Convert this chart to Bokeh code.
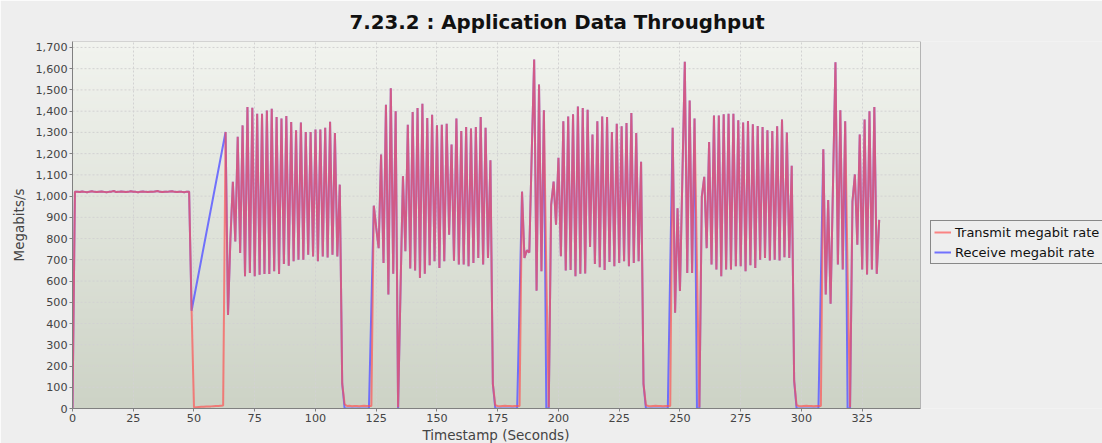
import numpy as np
from bokeh.plotting import figure
from bokeh.models import Range1d, NumeralTickFormatter, FixedTicker, Legend, LegendItem, Title
from bokeh.embed import file_html
from bokeh.resources import INLINE

# ---------------- data ----------------
transmit_t = list(range(0, 333))
transmit = [
    0, 1020, 1021, 1019, 1022, 1020, 1018, 1021, 1023, 1020,          # 0
    1019, 1021, 1022, 1020, 1018, 1020, 1021, 1024, 1019, 1020,       # 10
    1022, 1021, 1019, 1020, 1023, 1021, 1020, 1018, 1021, 1022,       # 20
    1020, 1019, 1021, 1020, 1022, 1024, 1020, 1019, 1021, 1020,       # 30
    1022, 1023, 1020, 1019, 1021, 1020, 1018, 1021, 1020, 470,        # 40
    5, 6, 7, 8, 8, 9, 10, 10, 11, 12,                                 # 50
    12, 13, 14, 1302, 440, 800, 1068, 787, 1279, 732,                 # 60
    1333, 623, 1419, 638, 1416, 623, 1388, 630, 1388, 633,            # 70
    1403, 633, 1411, 646, 1372, 633, 1365, 680, 1377, 672,            # 80
    1349, 693, 1310, 700, 1346, 700, 1302, 724, 1302, 716,            # 90
    1313, 693, 1313, 716, 1322, 711, 1350, 724, 1297, 716,            # 100
    1054, 117, 20, 12, 13, 11, 12, 12, 11, 12,                        # 110
    13, 12, 12, 12, 955, 850, 755, 1196, 685, 1430,                   # 120
    537, 1508, 634, 1399, 6, 560, 1094, 740, 1336, 659,               # 130
    1396, 650, 1415, 615, 1435, 634, 1368, 674, 1383, 693,            # 140
    1333, 662, 1336, 693, 1341, 818, 1243, 696, 1365, 678,            # 150
    1307, 678, 1325, 670, 1318, 685, 1325, 709, 1372, 678,            # 160
    1322, 709, 1169, 116, 15, 12, 11, 12, 13, 12,                     # 170
    12, 11, 12, 12, 12, 1021, 709, 745, 735, 1200,                    # 180
    1643, 555, 1526, 646, 1404, 640, 6, 959, 1068, 865,               # 190
    1180, 717, 1352, 650, 1375, 652, 1385, 623, 1422, 634,            # 200
    1415, 636, 1407, 760, 1290, 681, 1352, 665, 1375, 652,            # 210
    1372, 690, 1302, 670, 1341, 685, 1329, 693, 1344, 670,            # 220
    1391, 685, 1297, 693, 1162, 116, 15, 12, 11, 12,                  # 230
    13, 12, 12, 11, 12, 12, 12, 1322, 451, 943,                       # 240
    553, 1090, 1633, 638, 1450, 638, 1365, 680, 6, 998,               # 250
    1091, 755, 1255, 678, 1380, 654, 1380, 623, 1385, 654,            # 260
    1388, 654, 1388, 670, 1357, 670, 1346, 646, 1354, 674,            # 270
    1338, 662, 1330, 701, 1325, 709, 1310, 697, 1307, 701,            # 280
    1329, 697, 1361, 712, 1299, 709, 1143, 131, 15, 12,               # 290
    11, 12, 13, 12, 12, 11, 12, 12, 12, 1221,                         # 300
    537, 982, 493, 1060, 1630, 678, 1404, 654, 1352, 640,             # 310
    6, 974, 1102, 771, 1290, 654, 1361, 631, 1399, 654,               # 320
    1419, 634, 888,                                                   # 330
]

receive_t = list(range(0, 50)) + list(range(63, 333))
receive = [
    0, 1020, 1021, 1019, 1022, 1020, 1018, 1021, 1023, 1020,          # 0
    1019, 1021, 1022, 1020, 1018, 1020, 1021, 1024, 1019, 1020,       # 10
    1022, 1021, 1019, 1020, 1023, 1021, 1020, 1018, 1021, 1022,       # 20
    1020, 1019, 1021, 1020, 1022, 1024, 1020, 1019, 1021, 1020,       # 30
    1022, 1023, 1020, 1019, 1021, 1020, 1018, 1021, 1020, 460,        # 40
    1302, 440, 800, 1068, 787, 1279, 732,                             # 63
    1333, 623, 1419, 638, 1416, 623, 1388, 630, 1388, 633,            # 70
    1403, 633, 1411, 646, 1372, 633, 1365, 680, 1377, 672,            # 80
    1349, 693, 1310, 700, 1346, 700, 1302, 724, 1302, 716,            # 90
    1313, 693, 1313, 716, 1322, 711, 1350, 724, 1297, 716,            # 100
    1054, 117, 0, 0, 0, 0, 0, 0, 0, 0,                                # 110
    0, 0, 0, 480, 955, 850, 755, 1196, 685, 1430,                     # 120
    537, 1508, 634, 1399, 0, 560, 1094, 740, 1336, 659,               # 130
    1396, 650, 1415, 615, 1435, 634, 1368, 674, 1383, 693,            # 140
    1333, 662, 1336, 693, 1341, 818, 1243, 696, 1365, 678,            # 150
    1307, 678, 1325, 670, 1318, 685, 1325, 709, 1372, 678,            # 160
    1322, 709, 1169, 116, 0, 0, 0, 0, 0, 0,                           # 170
    0, 0, 0, 0, 510, 1021, 709, 745, 735, 1200,                       # 180
    1643, 555, 1526, 646, 1404, 0, 0, 959, 1068, 865,                 # 190
    1180, 717, 1352, 650, 1375, 652, 1385, 623, 1422, 634,            # 200
    1415, 636, 1407, 760, 1290, 681, 1352, 665, 1375, 652,            # 210
    1372, 690, 1302, 670, 1341, 685, 1329, 693, 1344, 670,            # 220
    1391, 685, 1297, 693, 1162, 116, 0, 0, 0, 0,                      # 230
    0, 0, 0, 0, 0, 0, 660, 1322, 451, 943,                            # 240
    553, 1090, 1633, 638, 1450, 638, 1365, 0, 0, 998,                 # 250
    1091, 755, 1255, 678, 1380, 654, 1380, 623, 1385, 654,            # 260
    1388, 654, 1388, 670, 1357, 670, 1346, 646, 1354, 674,            # 270
    1338, 662, 1330, 701, 1325, 709, 1310, 697, 1307, 701,            # 280
    1329, 697, 1361, 712, 1299, 709, 1143, 131, 0, 0,                 # 290
    0, 0, 0, 0, 0, 0, 0, 0, 610, 1221,                                # 300
    537, 982, 493, 1060, 1630, 678, 1404, 654, 1352, 0,               # 310
    0, 974, 1102, 771, 1290, 654, 1361, 631, 1399, 654,               # 320
    1419, 634, 888,                                                   # 330
]

x_ticks = [0, 25, 50, 75, 100, 125, 150, 175, 200, 225, 250, 275, 300, 325]
y_ticks = list(range(0, 1800, 100))

TITLE = "7.23.2 : Application Data Throughput"
X_LABEL = "Timestamp (Seconds)"
Y_LABEL = "Megabits/s"
TX_LABEL = "Transmit megabit rate"
RX_LABEL = "Receive megabit rate"

# ---------------- figure ----------------
W, H = 1102, 443
LEFT, TOP, BOTTOM = 72, 40, 35
PLOT_W = 848                      # width of the data area in px
X_END = 349                       # x axis end
Y_END = 1728                      # y axis end
FRAME_W = W - LEFT
X_MAX = X_END * FRAME_W / PLOT_W  # frame extends right so the legend can sit beside the data area
FONT = "DejaVu Sans"
BG = "#eeeeee"

p = figure(width=W, height=H, title=TITLE,
           x_range=Range1d(0, X_MAX), y_range=Range1d(0, Y_END),
           output_backend="svg", toolbar_location=None,
           min_border_left=LEFT, min_border_right=0,
           min_border_top=TOP, min_border_bottom=BOTTOM,
           border_fill_color=BG, background_fill_color=BG,
           outline_line_color=None)

# vertical gradient for the data-area background
n = 256
top = np.array([242, 244, 239], dtype=float)
bot = np.array([205, 211, 198], dtype=float)
frac = np.linspace(0.0, 1.0, n)[:, None]
cols = bot + (top - bot) * frac
img = np.empty((n, 1), dtype=np.uint32)
view = img.view(dtype=np.uint8).reshape((n, 1, 4))
view[:, 0, 0] = cols[:, 0]
view[:, 0, 1] = cols[:, 1]
view[:, 0, 2] = cols[:, 2]
view[:, 0, 3] = 255
p.image_rgba(image=[img], x=0, y=0, dw=X_END, dh=Y_END, level="image")

# grid lines limited to the data area
GRID = "#d2d2d2"
p.ygrid.grid_line_color = None
p.segment(x0=[0] * len(y_ticks), x1=[X_END] * len(y_ticks), y0=y_ticks, y1=y_ticks,
          line_color=GRID, line_dash="2 2", line_width=1, level="underlay")
p.xgrid.grid_line_color = GRID
p.xgrid.grid_line_dash = "2 2"
p.xgrid.grid_line_width = 1

# data-area outline
p.quad(left=[0], right=[X_END], bottom=[0], top=[Y_END], fill_color=None,
       line_color="#b4b4b4", line_width=1, level="underlay")

r_rx = p.line(receive_t, receive, line_color="#6464ff", line_width=2, line_alpha=0.9)
r_tx = p.line(transmit_t, transmit, line_color="#ff5050", line_width=2, line_alpha=0.68)

# title
p.title.text_font = FONT
p.title.text_font_size = "19.8px"
p.title.text_font_style = "bold"
p.title.text_color = "#111111"
p.title.align = "left"
p.title.offset = 277
p.title.standoff = 16

# axes
p.xaxis.ticker = FixedTicker(ticks=x_ticks)
p.yaxis.ticker = FixedTicker(ticks=y_ticks)
p.xaxis.bounds = (0, X_END)
p.yaxis.formatter = NumeralTickFormatter(format="0,0")
p.yaxis.axis_label = Y_LABEL
for ax in (p.xaxis, p.yaxis):
    ax.major_label_text_font = FONT
    ax.major_label_text_font_size = "11.2px"
    ax.major_label_text_color = "#444444"
    ax.axis_label_text_font = FONT
    ax.axis_label_text_font_size = "13.5px"
    ax.axis_label_text_font_style = "normal"
    ax.axis_label_text_color = "#444444"
    ax.axis_line_color = "#808080"
    ax.major_tick_line_color = "#808080"
    ax.major_tick_out = 3
    ax.major_tick_in = 0
    ax.minor_tick_line_color = None
    ax.major_label_standoff = 2
p.yaxis.axis_label_standoff = 5

# x-axis label, centred under the data area (not under the wider frame)
x_title = Title(text=X_LABEL, align="left", offset=350, standoff=0,
                text_font=FONT, text_font_size="13.5px", text_font_style="normal",
                text_color="#444444")
p.add_layout(x_title, "below")

# legend beside the data area
legend = Legend(items=[LegendItem(label=TX_LABEL, renderers=[r_tx]),
                       LegendItem(label=RX_LABEL, renderers=[r_rx])],
                location=(858, 144), orientation="vertical",
                label_text_font=FONT, label_text_font_size="13px",
                label_text_color="#111111",
                glyph_width=17, glyph_height=16, label_height=16,
                label_standoff=4, spacing=4, padding=3, margin=0,
                border_line_color="#222222", border_line_width=1,
                background_fill_color=BG, background_fill_alpha=1.0)
p.add_layout(legend)

open("out.html", "w").write(file_html(p, INLINE))
